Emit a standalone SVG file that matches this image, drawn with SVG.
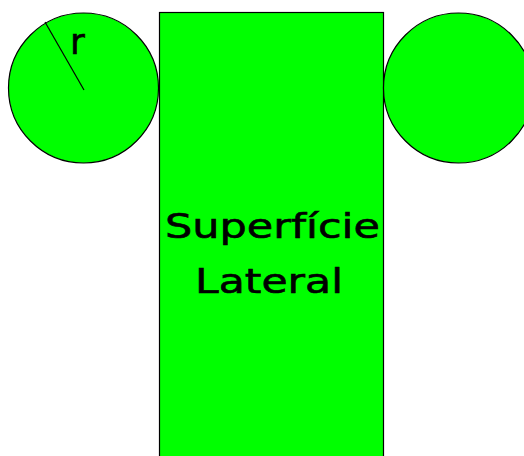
<svg xmlns="http://www.w3.org/2000/svg" width="524" height="456" viewBox="0 0 524 456">
<style>
.s{fill:#00ff00;stroke:#000;stroke-width:1.2}
.t{font-family:"DejaVu Sans","Liberation Sans",sans-serif;fill:#000;stroke:#000;stroke-width:0.6}
</style>
<rect width="524" height="456" fill="#fff"/>
<g id="lateral">
<rect class="s" x="159.5" y="12.5" width="224" height="450"/>
<text class="t" x="165" y="238" font-size="34" textLength="215" lengthAdjust="spacingAndGlyphs">Superfície</text>
<text class="t" x="195" y="293" font-size="34" textLength="148" lengthAdjust="spacingAndGlyphs">Lateral</text>
</g>
<g id="base-left">
<circle class="s" cx="83.5" cy="88" r="75"/>
</g>
<g id="base-right">
<circle class="s" cx="458.5" cy="88" r="75"/>
</g>
<g id="connectors">
<line x1="45" y1="22" x2="84" y2="90" stroke="#000" stroke-width="1.2"/>
<text class="t" x="70" y="54" font-size="36">r</text>
</g>
</svg>
